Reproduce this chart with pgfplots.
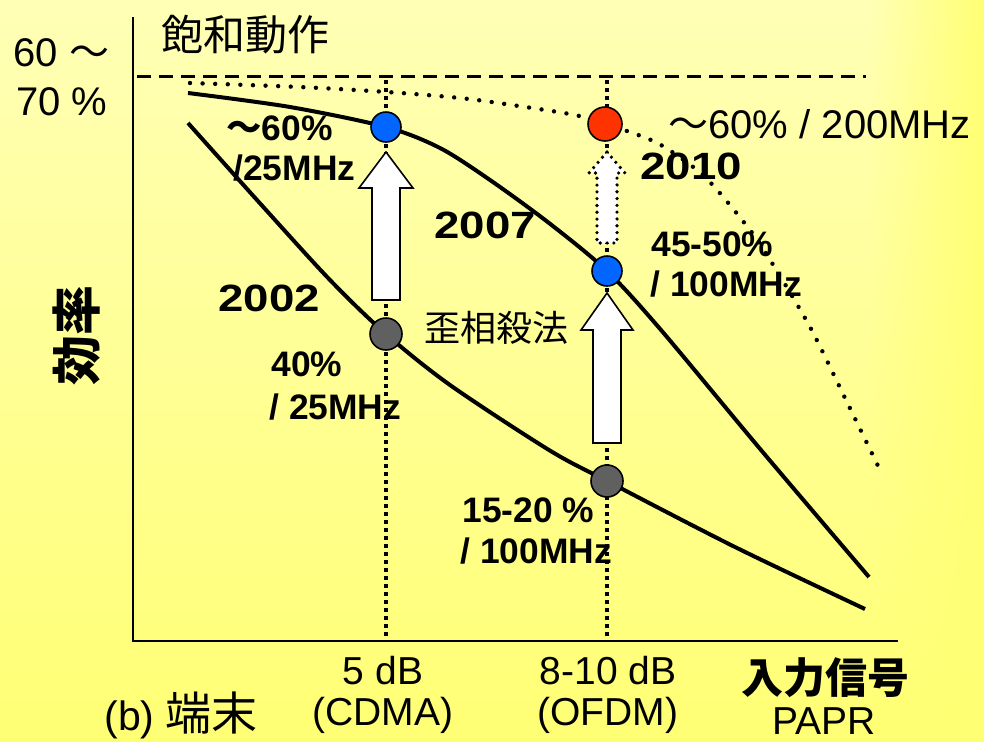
\documentclass[border=0pt]{standalone}
\usepackage{pgfplots}
\pgfplotsset{compat=1.18}
\usetikzlibrary{fadings}
\usepackage{fontspec}
\setmainfont{Liberation Sans}
\newfontfamily\jp{Noto Sans CJK JP}

\definecolor{bgTop}{RGB}{255,255,182}
\definecolor{bgBot}{RGB}{255,255,116}
\definecolor{bgRight}{RGB}{255,255,116}
\definecolor{ptBlue}{RGB}{0,102,255}
\definecolor{ptRed}{RGB}{255,51,0}
\definecolor{ptGray}{RGB}{96,96,96}

\tikzfading[name=fade in east, left color=transparent!100, right color=transparent!0]

\newcommand{\fs}[1]{\fontsize{#1}{#1}\selectfont}

\begin{document}
\begin{tikzpicture}
\begin{axis}[
  hide axis, scale only axis,
  width=492pt, height=370.5pt,
  xmin=0, xmax=984, ymin=0, ymax=741,
  y dir=reverse, clip=false,
]
% background
\shade[top color=bgTop, bottom color=bgBot] (axis cs:0,0) rectangle (axis cs:984,741);
\fill[bgRight, path fading=fade in east] (axis cs:870,0) rectangle (axis cs:984,741);

% axes
\addplot[black, line width=1.1pt] coordinates {(133,17) (133,641) (898,641)};

% saturation level
\addplot[black, line width=1.5pt, dash pattern=on 7pt off 4pt] coordinates {(137,76) (866,76)};

% PAPR guides
\addplot[black, line width=1.7pt, dash pattern=on 2pt off 2pt] coordinates {(386,80) (386,641)};
\addplot[black, line width=1.7pt, dash pattern=on 2pt off 2pt] coordinates {(607,80) (607,641)};

% 2010 (dotted)
\addplot[black, line width=2.2pt, line cap=round, dash pattern=on 0pt off 6.3pt, smooth]
  coordinates {(190,83) (300,87) (387,92) (460,98) (512,105) (575,115) (605,124)
               (627,131) (661,145) (705,177) (750,230) (772,263) (810,327) (845,398) (880,470)};

% 2007
\addplot[black, line width=2pt, smooth]
  coordinates {(188,93) (290,107) (386,127) (440,148) (490,180) (549,223) (607,271)
               (661,330) (761,450) (869,577)};

% 2002
\addplot[black, line width=2pt, smooth]
  coordinates {(188,123) (257,200) (330,280) (386,334) (450,385) (549,450) (607,481)
               (735,547) (865,609)};

% arrows
\addplot[draw=black, fill=white, line width=0.8pt]
  coordinates {(386,152) (413,188) (400,188) (400,300) (372,300) (372,188) (359,188)} -- cycle;
\addplot[draw=black, fill=white, line width=0.8pt]
  coordinates {(607,293) (633,330) (621,330) (621,443) (593,443) (593,330) (581,330)} -- cycle;
\addplot[draw=black, fill=white, line width=1.8pt, line cap=round, dash pattern=on 0pt off 3.4pt]
  coordinates {(607,152) (625,173) (617,173) (617,243) (597,243) (597,173) (589,173)} -- cycle;

% operating points
\addplot[only marks, mark=*, mark size=7.5pt, mark options={fill=ptBlue, draw=black, line width=0.8pt}]
  coordinates {(386,127) (607,271)};
\addplot[only marks, mark=*, mark size=8.5pt, mark options={fill=ptRed, draw=black, line width=0.8pt}]
  coordinates {(605,124)};
\addplot[only marks, mark=*, mark size=8pt, mark options={fill=ptGray, draw=black, line width=0.8pt}]
  coordinates {(386,334) (607,481)};

% labels
\node[anchor=west, inner sep=0] at (axis cs:13,53) {\fs{20pt}60 {\jp ～}};
\node[anchor=west, inner sep=0] at (axis cs:16,102) {\fs{20pt}70 \%};
\node[anchor=west, inner sep=0] at (axis cs:161,35) {\jp\fs{21pt}飽和動作};

\node[anchor=west, inner sep=0] at (axis cs:226,128) {\bfseries\fs{17.7pt}{\jp ～}60\%};
\node[anchor=west, inner sep=0] at (axis cs:233,168) {\bfseries\fs{17.7pt}/25MHz};

\node[anchor=west, inner sep=0] at (axis cs:668,124) {\fs{20pt}{\jp ～}60\% / 200MHz};

\node[anchor=west, inner sep=0, xscale=1.2] at (axis cs:640,166) {\bfseries\fs{19pt}2010};
\node[anchor=west, inner sep=0, xscale=1.2] at (axis cs:434,225) {\bfseries\fs{19pt}2007};
\node[anchor=west, inner sep=0, xscale=1.2] at (axis cs:218,298) {\bfseries\fs{19pt}2002};

\node[anchor=west, inner sep=0] at (axis cs:651,244) {\bfseries\fs{17.7pt}45-50\%};
\node[anchor=west, inner sep=0] at (axis cs:650,284) {\bfseries\fs{17.7pt}/ 100MHz};

\node[anchor=west, inner sep=0] at (axis cs:424,328) {\jp\fs{18pt}歪相殺法};

\node[anchor=west, inner sep=0] at (axis cs:271,364) {\bfseries\fs{17.7pt}40\%};
\node[anchor=west, inner sep=0] at (axis cs:269,407) {\bfseries\fs{17.7pt}/ 25MHz};

\node[anchor=west, inner sep=0] at (axis cs:462,510) {\bfseries\fs{17.7pt}15-20 \%};
\node[anchor=west, inner sep=0] at (axis cs:460,551) {\bfseries\fs{17.7pt}/ 100MHz};

\node[rotate=90, inner sep=0] at (axis cs:77,335) {\jp\bfseries\fs{25pt}効率};

\node[inner sep=0] at (axis cs:383,671) {\fs{19.5pt}5 dB};
\node[inner sep=0] at (axis cs:383,715) {\fs{19.5pt}(CDMA)};
\node[inner sep=0] at (axis cs:608,671) {\fs{19.5pt}8-10 dB};
\node[inner sep=0] at (axis cs:608,715) {\fs{19.5pt}(OFDM)};
\node[inner sep=0] at (axis cs:825,678) {\jp\bfseries\fs{21pt}入力信号};
\node[inner sep=0] at (axis cs:824,721) {\fs{19.5pt}PAPR};
\node[anchor=west, inner sep=0] at (axis cs:104,715) {\fs{20.5pt}(b) {\jp\fs{23pt}端末}};
\end{axis}
\end{tikzpicture}
\end{document}
